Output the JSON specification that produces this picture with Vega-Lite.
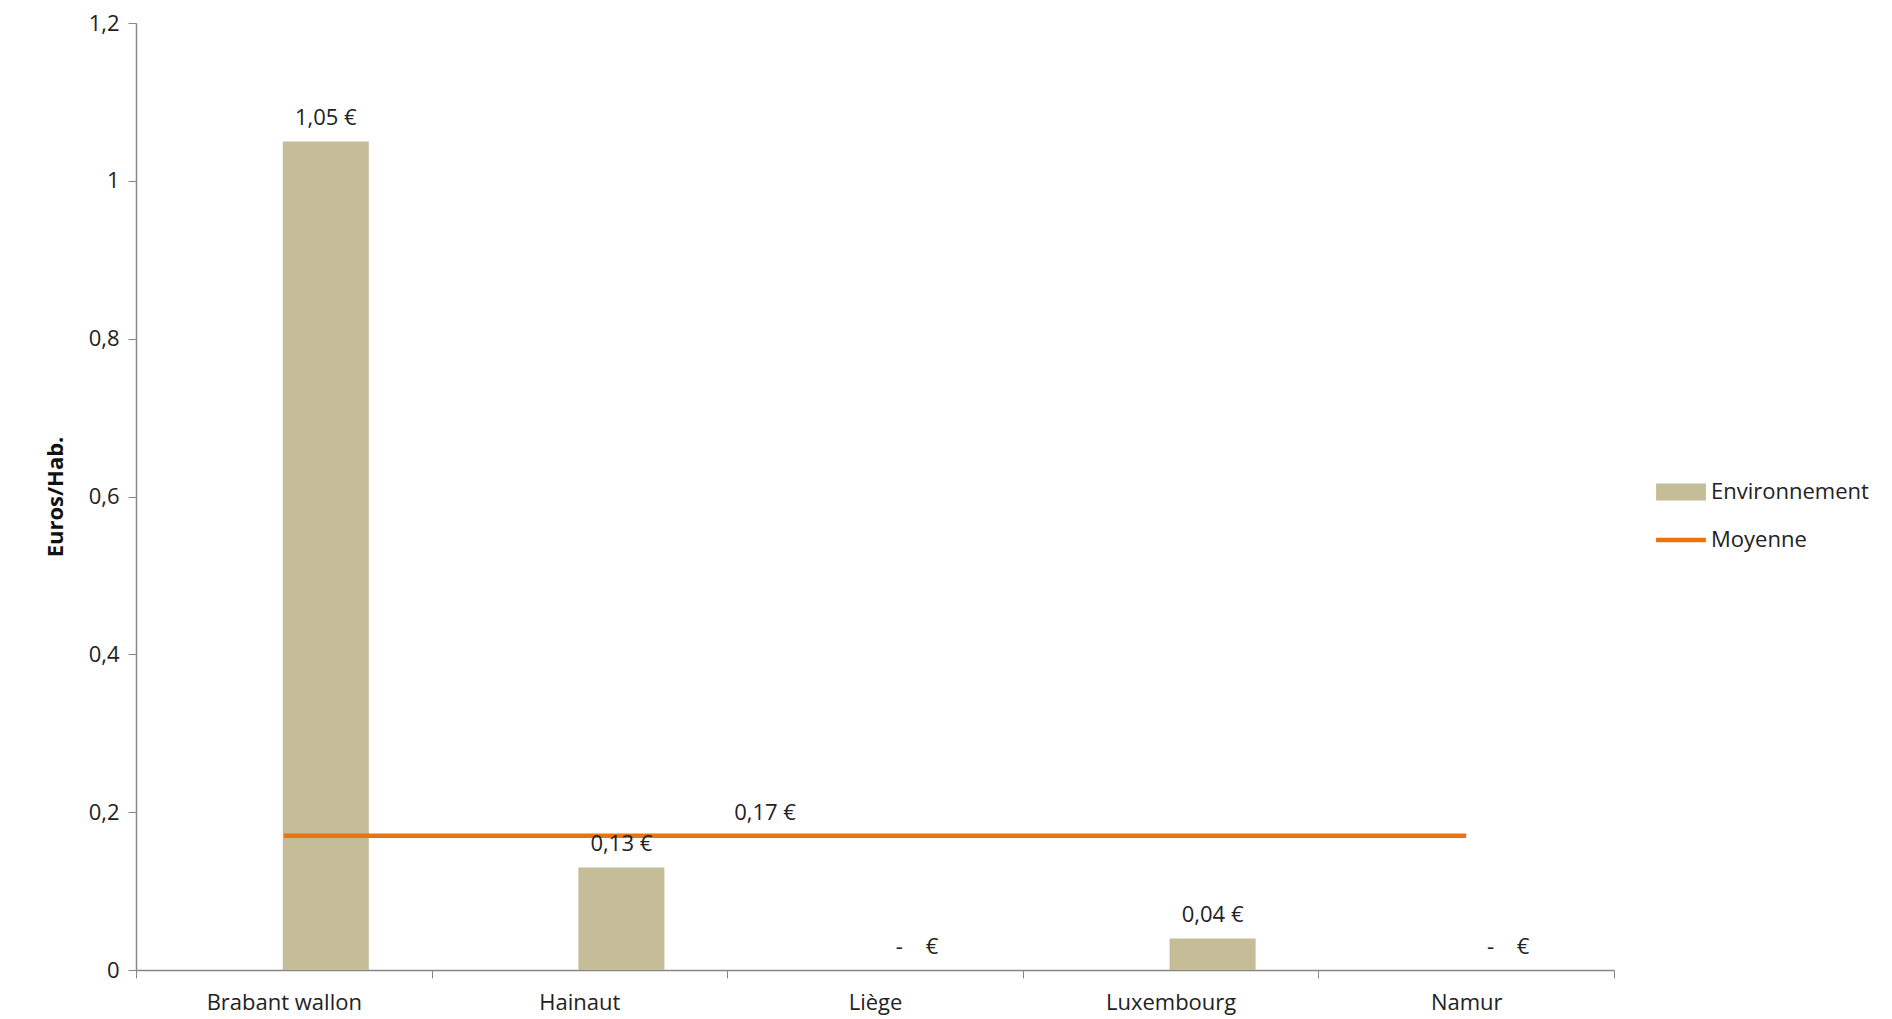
{
  "$schema": "https://vega.github.io/schema/vega-lite/v6.json",
  "autosize": {"type": "none"},
  "padding": {"left": 136, "top": 23, "right": 278, "bottom": 49},
  "width": 1478,
  "height": 947,
  "background": "white",
  "config": {
    "font": "Open Sans",
    "view": {"stroke": null},
    "axis": {"labelFont": "Open Sans", "labelColor": "#222222", "domainColor": "#868686", "tickColor": "#868686", "grid": false}
  },
  "data": {
    "values": [
      {"province": "Brabant wallon", "valeur": 1.05, "moyenne": 0.17, "label": "1,05 €"},
      {"province": "Hainaut", "valeur": 0.13, "moyenne": 0.17, "label": "0,13 €"},
      {"province": "Liège", "valeur": 0, "moyenne": 0.17, "label": "-\u00a0\u00a0\u00a0\u00a0€"},
      {"province": "Luxembourg", "valeur": 0.04, "moyenne": 0.17, "label": "0,04 €"},
      {"province": "Namur", "valeur": 0, "moyenne": 0.17, "label": "-\u00a0\u00a0\u00a0\u00a0€"}
    ]
  },
  "encoding": {
    "x": {
      "field": "province", "type": "nominal", "sort": null,
      "scale": {"paddingInner": 0, "paddingOuter": 0},
      "axis": {"title": null, "labelAngle": 0, "tickBand": "extent", "tickSize": 8, "labelFontSize": 22, "labelPadding": 14, "domainWidth": 1.5}
    }
  },
  "layer": [
    {
      "mark": {"type": "bar", "width": 86, "xOffset": 42},
      "encoding": {
        "y": {
          "field": "valeur", "type": "quantitative",
          "scale": {"domain": [0, 1.2], "nice": false},
          "axis": {
            "title": "Euros/Hab.", "titleFont": "Open Sans", "titleFontSize": 22, "titleFontWeight": "bold", "titleColor": "#111111",
            "titleX": -81, "titleY": 473.5, "titleAngle": 270, "titleAlign": "center", "titleBaseline": "middle",
            "values": [0, 0.2, 0.4, 0.6, 0.8, 1, 1.2],
            "labelExpr": "replace(format(datum.value, '.1~f'), '.', ',')",
            "tickSize": 8, "labelFontSize": 22, "labelPadding": 9, "domainWidth": 1.5
          }
        },
        "color": {
          "datum": "Environnement",
          "scale": {"domain": ["Environnement", "Moyenne"], "range": ["#C4BD97", "#EA730C"]},
          "legend": {
            "title": null, "orient": "none", "legendX": 1534, "legendY": 458,
            "symbolSize": 2209, "labelFontSize": 22, "labelFont": "Open Sans", "labelColor": "#222222",
            "labelOffset": 19, "rowPadding": 26,
            "encode": {
              "symbols": {
                "update": {
                  "shape": {"signal": "datum.value === 'Moyenne' ? 'M-1.06,0L1.06,0' : 'M-1.06,-0.36L1.06,-0.36L1.06,0.36L-1.06,0.36Z'"},
                  "fill": {"signal": "datum.value === 'Moyenne' ? 'transparent' : '#C4BD97'"},
                  "stroke": {"signal": "datum.value === 'Moyenne' ? '#EA730C' : '#C4BD97'"},
                  "strokeWidth": {"signal": "datum.value === 'Moyenne' ? 4.5 : 0"},
                  "opacity": {"value": 1}
                }
              }
            }
          }
        }
      }
    },
    {
      "mark": {"type": "line", "strokeWidth": 4.5},
      "encoding": {
        "y": {"field": "moyenne", "type": "quantitative"},
        "color": {"datum": "Moyenne"}
      }
    },
    {
      "mark": {"type": "text", "xOffset": 42, "dy": -11, "baseline": "bottom", "fontSize": 22, "font": "Open Sans", "color": "#222222"},
      "encoding": {
        "y": {"field": "valeur", "type": "quantitative"},
        "text": {"field": "label"}
      }
    },
    {
      "transform": [{"filter": "datum.province === 'Liège'"}],
      "mark": {"type": "text", "dx": -110, "dy": -11, "baseline": "bottom", "fontSize": 22, "font": "Open Sans", "color": "#222222"},
      "encoding": {
        "y": {"field": "moyenne", "type": "quantitative"},
        "text": {"value": "0,17 €"}
      }
    }
  ]
}
